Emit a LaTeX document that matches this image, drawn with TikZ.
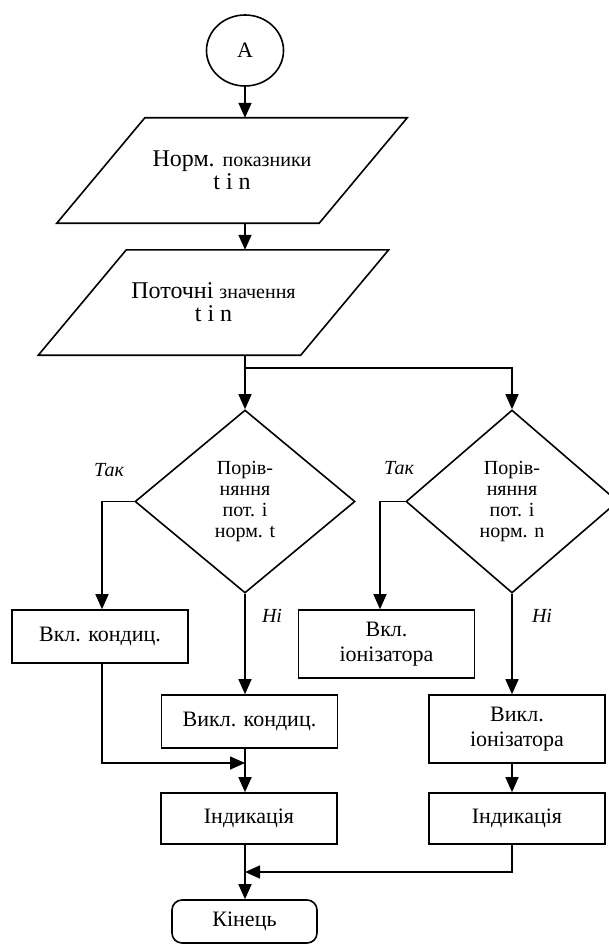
\documentclass[tikz,border=0pt]{standalone}
\usepackage{fontspec}
\setmainfont{Liberation Serif}
\usetikzlibrary{shapes.geometric,arrows.meta}

\newcommand{\smalltxt}[1]{{\fontsize{20}{23}\selectfont #1}}

\tikzset{
  base/.style={draw, line width=1.6pt, inner sep=0pt, align=center,
    font=\fontsize{22}{25}\selectfont},
  iobox/.style={rectangle, inner sep=0pt, align=center, minimum width=262pt,
    minimum height=105pt, font=\fontsize{24}{23}\selectfont},
  procbox/.style={base, rectangle, minimum width=176pt},
  cmpbox/.style={base, diamond, minimum height=183pt,
    font=\fontsize{20}{21}\selectfont},
  termbox/.style={base, rectangle, rounded corners=10pt, minimum width=145pt, minimum height=43pt},
  conn/.style={line width=1.6pt},
  arr/.style={conn, -{Triangle[length=15pt,width=13pt]}},
  lbl/.style={font=\fontsize{20}{20}\selectfont\itshape, inner sep=0pt}
}

\begin{document}
\begin{tikzpicture}[x=1pt,y=1pt]
  \useasboundingbox (0,0) rectangle (608,-944);
  % blocks
  \node[base, ellipse, minimum width=77pt, minimum height=71pt] (start) at (245,-50.5) {A};
  \node[iobox] (norm) at (232,-170.5) {Норм. \smalltxt{показники}\\t i n};
  \draw[conn] ([xshift=44pt]norm.north west) -- ([xshift=44pt]norm.north east)
    -- ([xshift=-44pt]norm.south east) -- ([xshift=-44pt]norm.south west) -- cycle;
  \node[iobox] (cur) at (213.5,-302.5) {Поточні \smalltxt{значення}\\t i n};
  \draw[conn] ([xshift=44pt]cur.north west) -- ([xshift=44pt]cur.north east)
    -- ([xshift=-44pt]cur.south east) -- ([xshift=-44pt]cur.south west) -- cycle;
  \node[cmpbox, minimum width=220pt] (cmpt) at (245,-501.5) {Порів-\\няння\\пот. і\\норм. t};
  \node[cmpbox, minimum width=212pt] (cmpn) at (512,-501.5) {Порів-\\няння\\пот. і\\норм. n};
  \node[procbox, minimum height=53pt] (onc) at (100,-636.5) {Вкл. кондиц.};
  \node[procbox, minimum height=68pt] (oni) at (386.5,-644) {Вкл.\\іонізатора};
  \node[procbox, minimum height=53pt] (offc) at (249.5,-721.5) {Викл. кондиц.};
  \node[procbox, minimum height=68pt] (offi) at (517,-729) {Викл.\\іонізатора};
  \node[procbox, minimum height=51pt] (indt) at (249,-818.5) {Індикація};
  \node[procbox, minimum height=51pt] (indi) at (517,-818.5) {Індикація};
  \node[termbox] (kin) at (244.5,-921.5) {Кінець};
  % labels
  \node[lbl] (tak1) at (109,-470) {Так};
  \node[lbl] (tak2) at (399,-468) {Так};
  \node[lbl] (ni1) at (272,-616) {Ні};
  \node[lbl] (ni2) at (542,-616) {Ні};
  % junctions
  \coordinate (j0) at (245,-368);
  \coordinate (j1) at (245,-763);
  \coordinate (j2) at (245,-872);
  % connectors
  \draw[arr] (start) -- (start |- norm.north);
  \draw[arr] (start |- norm.south) -- (start |- cur.north);
  \draw[conn] (start |- cur.south) -- (j0);
  \draw[arr] (j0) -- (cmpt.north);
  \draw[arr] (j0) -| (cmpn.north);
  \draw[arr] (cmpt.west) -| ([xshift=2pt]onc.north);
  \draw[arr] (cmpt.south) -- (cmpt.south |- offc.north);
  \draw[arr] (cmpn.west) -| ([xshift=-6.5pt]oni.north);
  \draw[arr] (cmpn.south) -- (cmpn.south |- offi.north);
  \draw[arr] (offc.south -| j1) -- (j1 |- indt.north);
  \draw[arr] ([xshift=2pt]onc.south) |- (j1);
  \draw[arr] (offi.south -| cmpn) -- (cmpn |- indi.north);
  \draw[arr] (indi.south -| cmpn) |- (j2);
  \draw[arr] (indt.south -| j2) -- (j2 |- kin.north);
\end{tikzpicture}
\end{document}
